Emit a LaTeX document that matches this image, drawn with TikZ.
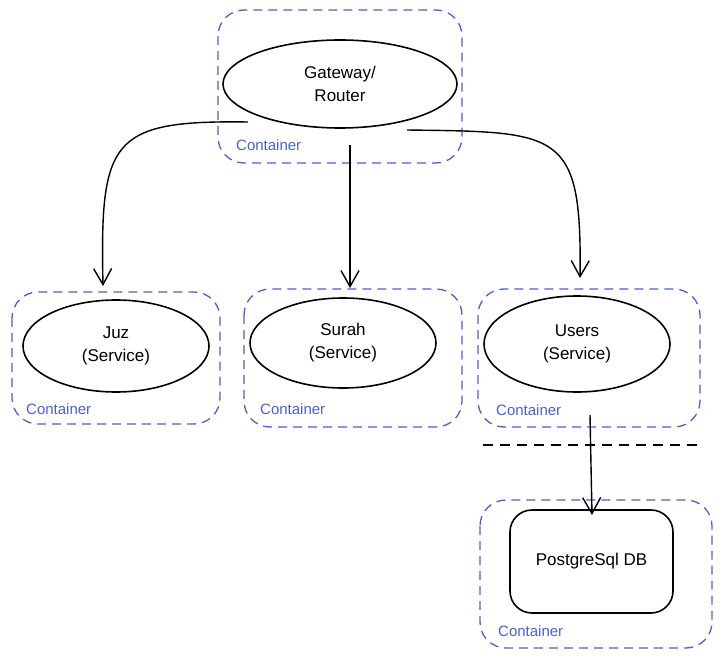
\documentclass[tikz,border=0pt]{standalone}
\usepackage{fontspec}
\setmainfont{Liberation Sans}
\usetikzlibrary{arrows.meta,shapes.geometric}
\definecolor{cblue}{HTML}{4A5FD4}
\tikzset{
  cont/.style={draw=cblue,dash pattern=on 9pt off 6pt,rounded corners=26pt,line width=1.3pt},
  clabel/.style={text=cblue,font=\fontsize{15}{18}\selectfont,anchor=west,inner sep=0pt},
  svc/.style={draw=black,ellipse,line width=1.6pt,font=\fontsize{17}{23}\selectfont,align=center,inner sep=0pt},
  conn/.style={draw=black,line width=1.4pt,-{Straight Barb[length=16pt,width=18pt,line width=1.4pt]}}
}
\begin{document}
\begin{tikzpicture}[x=1pt,y=-1pt]
\useasboundingbox (0,0) rectangle (723,658);
% containers
\draw[cont] (218,10) rectangle (462,163);
\draw[cont] (12,292) rectangle (220,424);
\draw[cont] (244,289) rectangle (462,427);
\draw[cont] (478,289) rectangle (700,427);
\draw[cont] (480,500) rectangle (712,648);
\node[clabel] (l1) at (236,145) {Container};
\node[clabel] (l2) at (26,409) {Container};
\node[clabel] (l3) at (260,409) {Container};
\node[clabel] (l4) at (496,410) {Container};
\node[clabel] (l5) at (498,631) {Container};
% nodes
\node[svc,minimum width=234pt,minimum height=88pt] (gw) at (340,84) {Gateway/\\Router};
\node[svc,minimum width=186pt,minimum height=92pt] (juz) at (116,346) {Juz\\(Service)};
\node[svc,minimum width=186pt,minimum height=90pt] (surah) at (343,343) {Surah\\(Service)};
\node[svc,minimum width=186pt,minimum height=96pt] (users) at (577,344) {Users\\(Service)};
\node[draw=black,rounded corners=22pt,line width=1.6pt,minimum width=163pt,minimum height=103pt,font=\fontsize{17}{23}\selectfont,inner sep=0pt] (db) at (591.5,561.5) {PostgreSql DB};
% separator
\coordinate (s1) at (483,445);
\coordinate (s2) at (697,445);
\draw[black,line width=1.3pt,dash pattern=on 10pt off 7pt] (s1) -- (s2);
% connectors
\coordinate (a1) at (248,122);
\coordinate (a1e) at (103,286);
\draw[conn] (a1) .. controls (110,120) and (100,140) .. (a1e);
\coordinate (a2) at (350,145);
\coordinate (a2e) at (350,288);
\draw[conn] (a2) -- (a2e);
\coordinate (a3) at (407,130);
\coordinate (a3e) at (580,278);
\draw[conn] (a3) .. controls (560,132) and (582,130) .. (a3e);
\coordinate (a4) at (590,415);
\coordinate (a4e) at (592,515);
\draw[conn] (a4) -- (a4e);
\end{tikzpicture}
\end{document}
